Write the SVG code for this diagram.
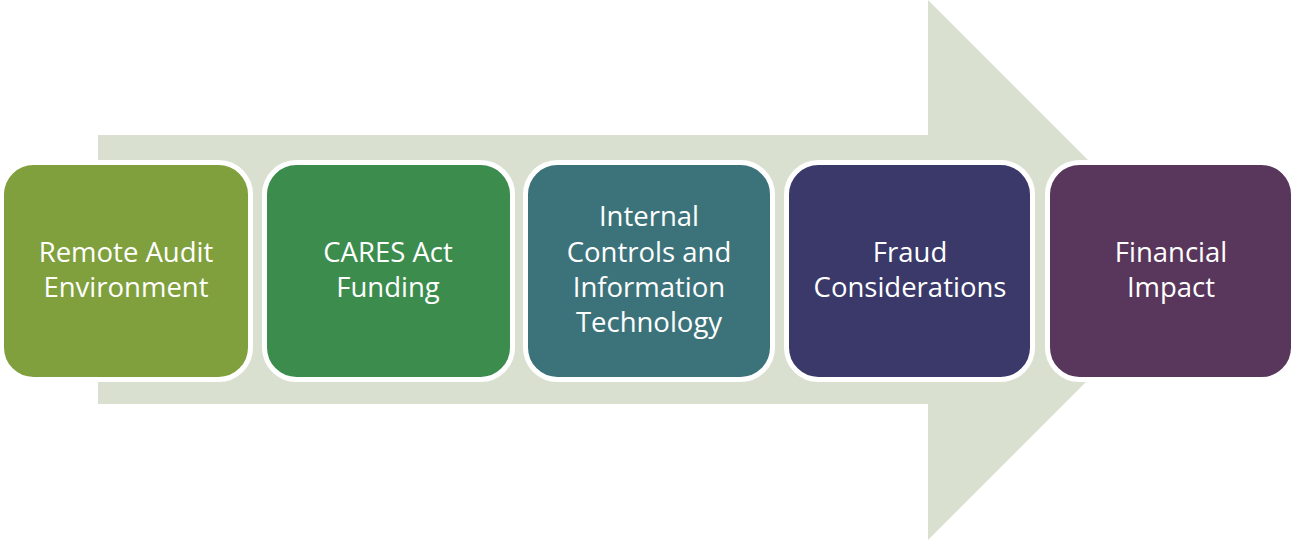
<svg xmlns="http://www.w3.org/2000/svg" width="1293" height="541" viewBox="0 0 1293 541">
<style>
.box{stroke:#fff;stroke-width:5}
.lbl{font-family:"Open Sans","Liberation Sans",sans-serif;font-size:27.5px;fill:#fff;text-anchor:middle}
</style>
<rect width="1293" height="541" fill="#fff"/>
<g id="arrow">
<polygon points="98,135 928,135 928,0 1198,270 928,540 928,404 98,404" fill="#D9E0D0"/>
</g>
<g id="connectors"></g>
<g id="n1"><rect class="box" x="1.5" y="162.5" width="249" height="217" rx="32" fill="#809F3D"/>
<text class="lbl" x="126" y="262">Remote Audit</text><text class="lbl" x="126" y="297">Environment</text></g>
<g id="n2"><rect class="box" x="264.5" y="162.5" width="248" height="217" rx="32" fill="#3C8C4E"/>
<text class="lbl" x="388" y="262">CARES Act</text><text class="lbl" x="388" y="297">Funding</text></g>
<g id="n3"><rect class="box" x="525.5" y="162.5" width="247" height="217" rx="32" fill="#3C737A"/>
<text class="lbl" x="649" y="226">Internal</text><text class="lbl" x="649" y="262">Controls and</text><text class="lbl" x="649" y="297">Information</text><text class="lbl" x="649" y="332">Technology</text></g>
<g id="n4"><rect class="box" x="786.5" y="162.5" width="246" height="217" rx="32" fill="#3A396A"/>
<text class="lbl" x="910" y="262">Fraud</text><text class="lbl" x="910" y="297">Considerations</text></g>
<g id="n5"><rect class="box" x="1047.5" y="162.5" width="246" height="217" rx="32" fill="#59365C"/>
<text class="lbl" x="1171" y="262">Financial</text><text class="lbl" x="1171" y="297">Impact</text></g>
</svg>
